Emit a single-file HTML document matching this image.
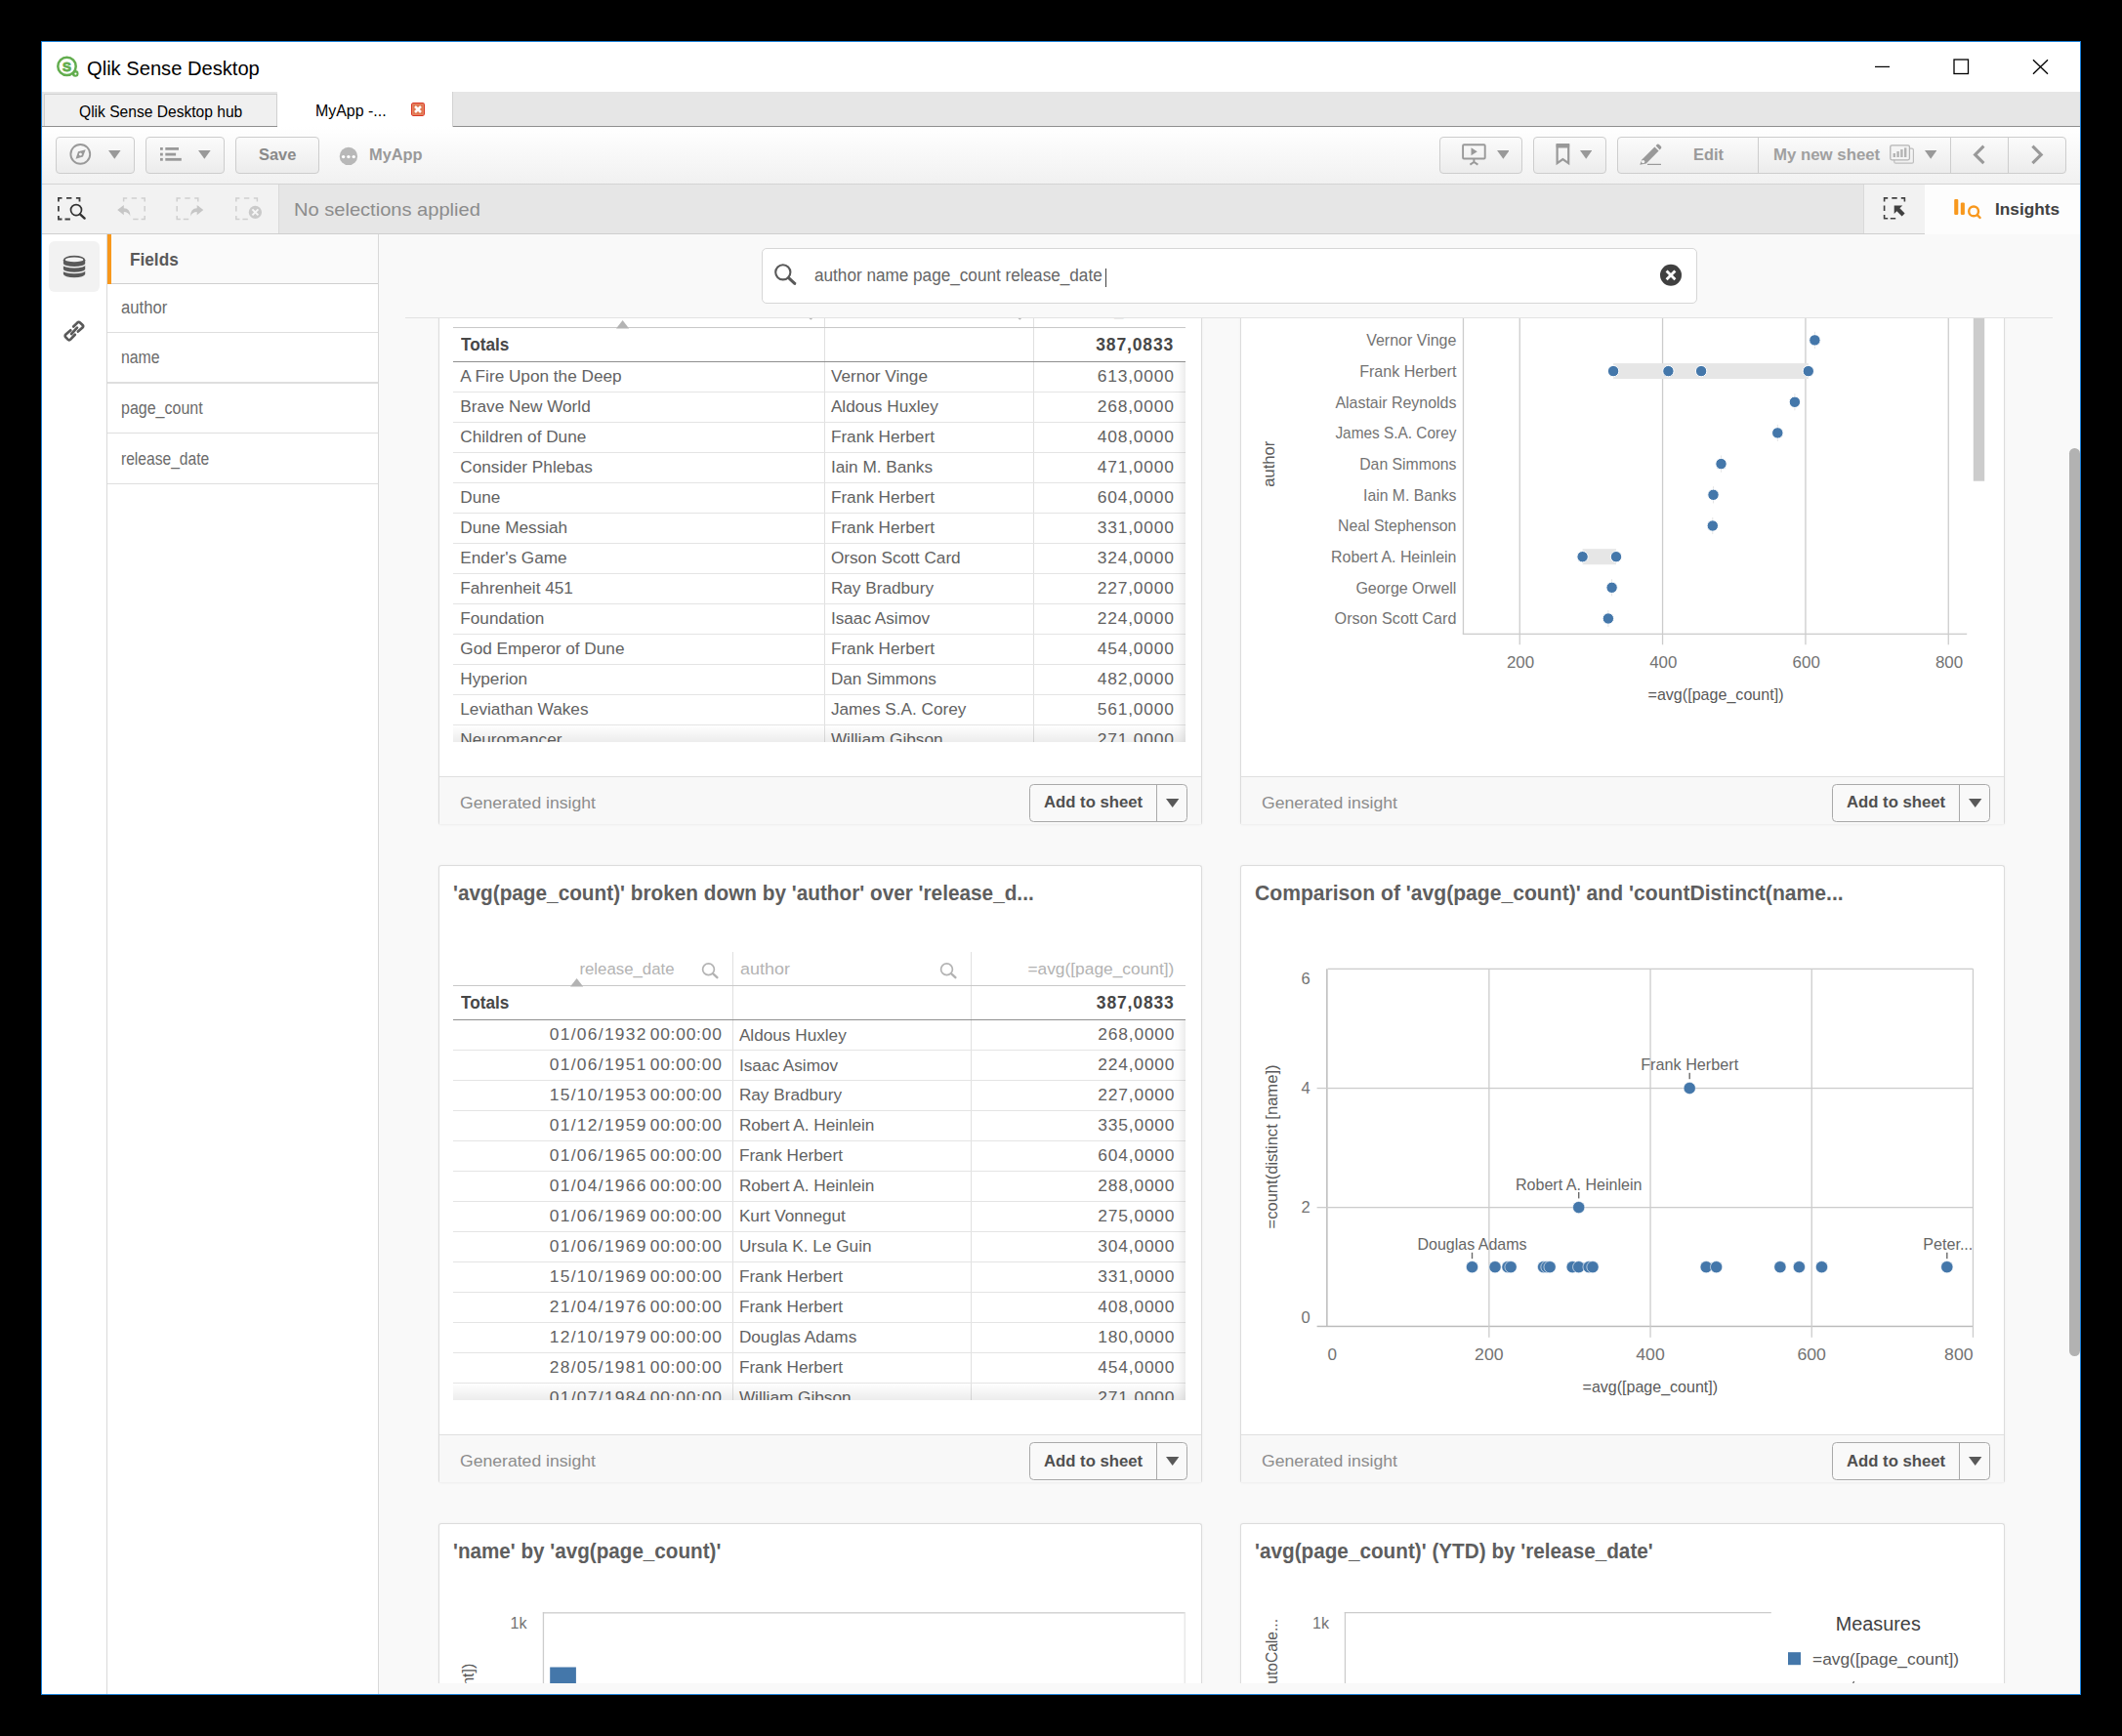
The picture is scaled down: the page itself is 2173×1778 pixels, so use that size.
<!DOCTYPE html>
<html><head><meta charset="utf-8"><title>Qlik Sense Desktop</title>
<style>
html,body{margin:0;padding:0;}
body{width:2173px;height:1778px;background:#000;overflow:hidden;position:relative;font-family:"Liberation Sans",sans-serif;}
.b{position:absolute;box-sizing:border-box;}
.t{position:absolute;white-space:nowrap;display:block;}
#clip{position:absolute;left:0;top:326px;width:2173px;height:1398px;overflow:hidden;}
#clip .in{position:absolute;left:0;top:-326px;width:2173px;height:1778px;}
</style></head><body>
<div class="b" style="left:42.00px;top:42.00px;width:2089.00px;height:1694.00px;background:#fff;border:1px solid #1a80d9;"></div>
<div class="b" style="left:43.00px;top:94.00px;width:2087.00px;height:36.00px;background:#e6e6e6;border-bottom:1px solid #8f8f8f;"></div>
<div class="b" style="left:45.00px;top:96.00px;width:239.00px;height:33.00px;background:#f0f0f0;border:1px solid #d0d0d0;border-bottom:none;"></div>
<div class="b" style="left:283.50px;top:94.00px;width:180.00px;height:36.00px;background:#fff;border-right:1px solid #d2d2d2;"></div>
<div class="b" style="left:43.00px;top:130.00px;width:2087.00px;height:59.00px;background:linear-gradient(#ffffff,#f1f1f1);border-bottom:1px solid #d4d4d4;"></div>
<div class="b" style="left:43.00px;top:189.00px;width:2087.00px;height:51.00px;background:#e6e6e6;border-bottom:1px solid #cfcfcf;"></div>
<div class="b" style="left:43.00px;top:189.00px;width:242.50px;height:50.00px;background:#f2f2f2;border-right:1px solid #d9d9d9;"></div>
<div class="b" style="left:1908.00px;top:189.00px;width:63.00px;height:50.00px;background:#f2f2f2;border-left:1px solid #d9d9d9;"></div>
<div class="b" style="left:1971.00px;top:189.00px;width:159.00px;height:50.50px;background:#fdfdfd;"></div>
<div class="b" style="left:43.00px;top:240.00px;width:67.00px;height:1495.00px;background:#fff;border-right:1px solid #d9d9d9;"></div>
<div class="b" style="left:110.00px;top:240.00px;width:278.00px;height:1495.00px;background:#fff;border-right:1px solid #d9d9d9;"></div>
<div class="b" style="left:388.00px;top:240.00px;width:1742.00px;height:1495.00px;background:#f9f9f9;"></div>
<span class="t" style="top:59.77px;font-size:20px;line-height:20px;color:#000;left:88.70px;transform-origin:0 50%;transform:scaleX(1.0066);">Qlik Sense Desktop</span>
<span class="t" style="top:105.51px;font-size:17px;line-height:17px;color:#000;left:81.20px;transform-origin:0 50%;transform:scaleX(0.9173);">Qlik Sense Desktop hub</span>
<span class="t" style="top:105.11px;font-size:17px;line-height:17px;color:#000;left:322.90px;transform-origin:0 50%;transform:scaleX(0.9372);">MyApp -...</span>
<svg class="b" style="left:421.00px;top:105.00px;" width="14" height="14" viewBox="0 0 14 14"><rect x="0.6" y="0.6" width="12.8" height="12.8" rx="1.8" fill="#e0764e" stroke="#d93623" stroke-width="1.2"/><rect x="1.7" y="1.7" width="10.6" height="10.6" fill="none" stroke="#e99271" stroke-width="0.8"/><path d="M4 4L10 10M10 4L4 10" stroke="#fff" stroke-width="2.5"/></svg>
<svg class="b" style="left:1920.00px;top:58.00px;" width="20" height="20" viewBox="0 0 20 20"><path d="M0 10.4H15" stroke="#000" stroke-width="1.2"/></svg>
<svg class="b" style="left:2000.00px;top:60.00px;" width="18" height="18" viewBox="0 0 18 18"><rect x="1" y="1" width="14.5" height="14.5" fill="none" stroke="#000" stroke-width="1.3"/></svg>
<svg class="b" style="left:2081.00px;top:60.00px;" width="18" height="18" viewBox="0 0 18 18"><path d="M1 1.2L16 15.8M16 1.2L1 15.8" stroke="#000" stroke-width="1.3"/></svg>
<div class="b" style="left:57.00px;top:140.00px;width:81.00px;height:38.00px;background:linear-gradient(#fbfbfb,#ececec);border:1px solid #cdcdcd;border-radius:4px;"></div>
<div class="b" style="left:149.00px;top:140.00px;width:81.00px;height:38.00px;background:linear-gradient(#fbfbfb,#ececec);border:1px solid #cdcdcd;border-radius:4px;"></div>
<div class="b" style="left:241.00px;top:140.00px;width:86.00px;height:38.00px;background:linear-gradient(#fbfbfb,#ececec);border:1px solid #cdcdcd;border-radius:4px;"></div>
<div class="b" style="left:1474.00px;top:140.00px;width:85.00px;height:38.00px;background:linear-gradient(#fbfbfb,#ececec);border:1px solid #cdcdcd;border-radius:4px;"></div>
<div class="b" style="left:1570.00px;top:140.00px;width:75.00px;height:38.00px;background:linear-gradient(#fbfbfb,#ececec);border:1px solid #cdcdcd;border-radius:4px;"></div>
<div class="b" style="left:1656.00px;top:140.00px;width:460.00px;height:38.00px;background:linear-gradient(#fbfbfb,#ececec);border:1px solid #cdcdcd;border-radius:4px;"></div>
<div class="b" style="left:1800.10px;top:141.00px;width:1.00px;height:36.00px;background:#cdcdcd;"></div>
<div class="b" style="left:1997.00px;top:141.00px;width:1.00px;height:36.00px;background:#cdcdcd;"></div>
<div class="b" style="left:2056.00px;top:141.00px;width:1.00px;height:36.00px;background:#cdcdcd;"></div>
<span class="t" style="top:149.73px;font-size:16.5px;line-height:16.5px;color:#8a8a8a;font-weight:bold;left:265.00px;transform-origin:0 50%;transform:scaleX(0.9965);">Save</span>
<span class="t" style="top:149.73px;font-size:16.5px;line-height:16.5px;color:#9a9a9a;font-weight:bold;left:378.20px;transform-origin:0 50%;transform:scaleX(0.9928);">MyApp</span>
<span class="t" style="top:205.32px;font-size:19px;line-height:19px;color:#8c8c8c;left:301.20px;transform-origin:0 50%;transform:scaleX(1.0564);">No selections applied</span>
<div class="b" style="left:110.00px;top:240.00px;width:277.00px;height:50.50px;background:#fafafa;border-bottom:1px solid #cfcfcf;"></div>
<div class="b" style="left:110.00px;top:240.00px;width:4.00px;height:50.50px;background:#f8981d;"></div>
<span class="t" style="top:255.82px;font-size:19px;line-height:19px;color:#595959;font-weight:bold;left:132.50px;transform-origin:0 50%;transform:scaleX(0.9052);">Fields</span>
<div class="b" style="left:110.00px;top:339.90px;width:277.00px;height:1.30px;background:#dedede;"></div>
<span class="t" style="top:305.86px;font-size:18px;line-height:18px;color:#6b6b6b;left:124.30px;transform-origin:0 50%;transform:scaleX(0.9248);">author</span>
<div class="b" style="left:110.00px;top:391.40px;width:277.00px;height:1.30px;background:#dedede;"></div>
<span class="t" style="top:357.36px;font-size:18px;line-height:18px;color:#6b6b6b;left:124.30px;transform-origin:0 50%;transform:scaleX(0.8795);">name</span>
<div class="b" style="left:110.00px;top:443.10px;width:277.00px;height:1.30px;background:#dedede;"></div>
<span class="t" style="top:409.06px;font-size:18px;line-height:18px;color:#6b6b6b;left:124.30px;transform-origin:0 50%;transform:scaleX(0.8896);">page_count</span>
<div class="b" style="left:110.00px;top:494.80px;width:277.00px;height:1.30px;background:#dedede;"></div>
<span class="t" style="top:460.76px;font-size:18px;line-height:18px;color:#6b6b6b;left:124.30px;transform-origin:0 50%;transform:scaleX(0.8666);">release_date</span>
<div class="b" style="left:50.00px;top:247.00px;width:52.00px;height:52.00px;background:#f2f2f2;border-radius:6px;"></div>
<svg class="b" style="left:57.00px;top:56.00px;" width="26" height="26" viewBox="0 0 26 26"><circle cx="20.2" cy="19.4" r="3.3" fill="#62ad4e"/><circle cx="11.5" cy="11.9" r="9.2" fill="#fff" stroke="#62ad4e" stroke-width="2.5"/><circle cx="20.4" cy="19.6" r="1.1" fill="#fff"/><text x="11.5" y="16.7" text-anchor="middle" font-family="Liberation Sans" font-weight="bold" font-size="13.4" fill="#62ad4e" stroke="#62ad4e" stroke-width="0.9">S</text></svg>
<svg class="b" style="left:70.00px;top:146.00px;" width="25" height="25" viewBox="0 0 25 25"><circle cx="12.3" cy="11.9" r="9.9" fill="none" stroke="#999999" stroke-width="1.9"/><path d="M17.7 7.2L15 14.4L7.5 16.8L10 9.3Z M12.4 10.5a1.5 1.5 0 1 0 0.01 0Z" fill="#999999" fill-rule="evenodd"/></svg>
<svg class="b" style="left:111.10px;top:154.20px;" width="12.600000000000009" height="8.700000000000017" viewBox="0 0 12.600000000000009 8.700000000000017"><path d="M0 0H12.60L6.30 8.70Z" fill="#999999"/></svg>
<svg class="b" style="left:203.20px;top:154.20px;" width="12.700000000000017" height="8.700000000000017" viewBox="0 0 12.700000000000017 8.700000000000017"><path d="M0 0H12.70L6.35 8.70Z" fill="#999999"/></svg>
<svg class="b" style="left:1532.60px;top:154.20px;" width="12.700000000000045" height="8.700000000000017" viewBox="0 0 12.700000000000045 8.700000000000017"><path d="M0 0H12.70L6.35 8.70Z" fill="#999999"/></svg>
<svg class="b" style="left:1617.60px;top:154.20px;" width="12.400000000000091" height="8.700000000000017" viewBox="0 0 12.400000000000091 8.700000000000017"><path d="M0 0H12.40L6.20 8.70Z" fill="#999999"/></svg>
<svg class="b" style="left:1971.20px;top:154.20px;" width="12.299999999999955" height="8.700000000000017" viewBox="0 0 12.299999999999955 8.700000000000017"><path d="M0 0H12.30L6.15 8.70Z" fill="#999999"/></svg>
<svg class="b" style="left:163.90px;top:151.20px;" width="24" height="15" viewBox="0 0 24 15"><rect x="0" y="0.00" width="2.8" height="2.8" fill="#999999"/><rect x="5.3" y="0.00" width="13.70" height="2.8" fill="#999999"/><rect x="0" y="5.70" width="2.8" height="2.8" fill="#999999"/><rect x="5.3" y="5.70" width="10.80" height="2.8" fill="#999999"/><rect x="0" y="10.90" width="2.8" height="2.8" fill="#999999"/><rect x="5.3" y="10.90" width="16.50" height="2.8" fill="#999999"/></svg>
<svg class="b" style="left:346.00px;top:149.00px;" width="22" height="22" viewBox="0 0 22 22"><circle cx="10.9" cy="10.9" r="9.2" fill="#b8b8b8"/><circle cx="5.6" cy="11.6" r="1.7" fill="#fff"/><circle cx="10.9" cy="11.6" r="1.7" fill="#fff"/><circle cx="16.2" cy="11.6" r="1.7" fill="#fff"/></svg>
<svg class="b" style="left:1496.00px;top:146.00px;" width="28" height="24" viewBox="0 0 28 24"><rect x="2.1" y="2.3" width="22.6" height="14.2" rx="1" fill="none" stroke="#999999" stroke-width="1.9"/><path d="M10.5 5.2L16.8 9.2L10.5 13.2Z" fill="#999999"/><path d="M13.4 17V20M9.4 22.6L13.4 20L17.4 22.6" fill="none" stroke="#999999" stroke-width="1.9"/></svg>
<svg class="b" style="left:1592.00px;top:146.00px;" width="18" height="24" viewBox="0 0 18 24"><path d="M2.6 2.2H14.2V21.2L8.4 17L2.6 21.2Z" fill="none" stroke="#999999" stroke-width="2.2"/><rect x="1.6" y="1.2" width="13.6" height="4.2" rx="1.5" fill="#999999"/></svg>
<svg class="b" style="left:1677.00px;top:146.00px;" width="26" height="24" viewBox="0 0 26 24"><path d="M4.6 17.2L17.4 4.4L21.6 8.6L8.8 21.4L2.2 22.8Z" fill="#999999"/><path d="M18.6 3.2L20 1.8Q21 1 22 2L24 4Q24.8 5 24 6L22.6 7.4Z" fill="#999999"/><circle cx="5.6" cy="19.6" r="1.7" fill="#f4f4f4"/><rect x="10" y="21.8" width="14" height="1.2" fill="#999999"/></svg>
<span class="t" style="top:149.93px;font-size:16.5px;line-height:16.5px;color:#9a9a9a;font-weight:bold;left:1733.80px;transform-origin:0 50%;transform:scaleX(0.9915);">Edit</span>
<span class="t" style="top:149.93px;font-size:16.5px;line-height:16.5px;color:#a0a0a0;font-weight:bold;left:1815.60px;transform-origin:0 50%;transform:scaleX(1.0179);">My new sheet</span>
<svg class="b" style="left:1935.00px;top:148.00px;" width="26" height="21" viewBox="0 0 26 21"><rect x="4.8" y="4.2" width="19.6" height="15" rx="1.5" fill="none" stroke="#bdbdbd" stroke-width="1.2"/><rect x="0.8" y="0.8" width="19.6" height="15" rx="1.5" fill="#f4f4f4" stroke="#b4b4b4" stroke-width="1.3"/><rect x="3.6" y="9" width="2.4" height="4" fill="#b4b4b4"/><rect x="7.4" y="7" width="2.4" height="6" fill="#b4b4b4"/><rect x="11.2" y="5" width="2.4" height="8" fill="#b4b4b4"/><rect x="15" y="3.4" width="2.4" height="9.6" fill="#b4b4b4"/></svg>
<svg class="b" style="left:2019.00px;top:147.00px;" width="16" height="23" viewBox="0 0 16 23"><path d="M12.4 2.6L3.6 11.4L12.4 20.2" fill="none" stroke="#999999" stroke-width="3.1"/></svg>
<svg class="b" style="left:2078.00px;top:147.00px;" width="16" height="23" viewBox="0 0 16 23"><path d="M3.4 2.6L12.2 11.4L3.4 20.2" fill="none" stroke="#999999" stroke-width="3.1"/></svg>
<svg class="b" style="left:56.00px;top:199.00px;" width="36" height="30" viewBox="0 0 36 30"><path d="M3.9 7.5V3.9H7.5 M21.9 3.9H25.5V7.5 M7.5 25.5H3.9V21.9 M12.0 3.9H17.400000000000002 M10.5 25.5H15.900000000000002 M3.9 12.0V17.400000000000002" fill="none" stroke="#404040" stroke-width="1.8"/><circle cx="22" cy="16.1" r="5.5" fill="none" stroke="#333" stroke-width="1.7"/><path d="M26 20.3L30.6 24.6" stroke="#333" stroke-width="2.4" stroke-linecap="round"/></svg>
<svg class="b" style="left:117.00px;top:199.00px;" width="36" height="30" viewBox="0 0 36 30"><path d="M9.6 7.5V3.9H13.2 M27.6 3.9H31.200000000000003V7.5 M31.200000000000003 21.9V25.5H27.6 M17.7 3.9H23.099999999999998 M19.2 25.5H24.599999999999998 M31.200000000000003 12.0V17.400000000000002" fill="none" stroke="#cfcfcf" stroke-width="1.5"/><path d="M3.2 16.1L9.8 11V14.2Q16.6 14.4 16.4 22.6Q14.6 18 9.8 18V21.2Z" fill="#c6c6c6"/></svg>
<svg class="b" style="left:177.00px;top:199.00px;" width="36" height="30" viewBox="0 0 36 30"><path d="M4.2 7.5V3.9H7.800000000000001 M22.2 3.9H25.8V7.5 M7.800000000000001 25.5H4.2V21.9 M12.3 3.9H17.7 M10.8 25.5H16.2 M4.2 12.0V17.400000000000002 M25.8 12.0V17.400000000000002" fill="none" stroke="#cfcfcf" stroke-width="1.5"/><rect x="24" y="13" width="3" height="5" fill="#f2f2f2"/><path d="M31.3 16.1L24.7 11V14.2Q17.9 14.4 18.1 22.6Q19.9 18 24.7 18V21.2Z" fill="#c6c6c6"/></svg>
<svg class="b" style="left:238.00px;top:199.00px;" width="36" height="30" viewBox="0 0 36 30"><path d="M3.8 7.5V3.9H7.4 M21.8 3.9H25.400000000000002V7.5 M7.4 25.5H3.8V21.9 M11.900000000000002 3.9H17.3 M10.400000000000002 25.5H15.8 M3.8 12.0V17.400000000000002" fill="none" stroke="#cfcfcf" stroke-width="1.5"/><circle cx="23.4" cy="18.4" r="6.6" fill="#cacaca"/><path d="M20.4 15.4L26.4 21.4M26.4 15.4L20.4 21.4" stroke="#f6f6f6" stroke-width="2"/></svg>
<svg class="b" style="left:1926.00px;top:199.00px;" width="30" height="30" viewBox="0 0 30 30"><path d="M3.6 7.5V3.9H7.2 M20.8 3.9H24.400000000000002V7.5 M7.2 24.7H3.6V21.099999999999998 M11.3 3.9H16.7 M9.8 24.7H15.2 M3.6 11.600000000000001V17.0" fill="none" stroke="#404040" stroke-width="1.6"/><path d="M13.7 11.4H22.2L19.4 14.2L24.6 19.4L21.6 22.4L16.4 17.2L13.7 19.9Z" fill="#404040"/></svg>
<svg class="b" style="left:2000.00px;top:202.00px;" width="30" height="24" viewBox="0 0 30 24"><rect x="1.2" y="1.9" width="4.1" height="16" rx="1.2" fill="#f8981d"/><rect x="7.8" y="5.6" width="4.1" height="12.3" rx="1.2" fill="#f8981d"/><circle cx="21.1" cy="14.4" r="4.9" fill="none" stroke="#f8981d" stroke-width="2.4"/><path d="M24.8 18.1L27.6 21" stroke="#f8981d" stroke-width="2.4" stroke-linecap="round"/></svg>
<span class="t" style="top:206.78px;font-size:16.8px;line-height:16.8px;color:#404040;font-weight:bold;left:2042.90px;transform-origin:0 50%;transform:scaleX(1.0294);">Insights</span>
<svg class="b" style="left:64.00px;top:261.00px;" width="24" height="24" viewBox="0 0 24 24"><path d="M0.9 5.2V19.4A11.15 3.9 0 0 0 23.2 19.4V5.2Z" fill="#595959"/><ellipse cx="12.05" cy="5.2" rx="11.15" ry="4.4" fill="#595959"/><ellipse cx="12.05" cy="4.9" rx="9.3" ry="2.3" fill="#f2f2f2"/><path d="M0.4 9.3A11.65 3.5 0 0 0 23.7 9.3" fill="none" stroke="#f2f2f2" stroke-width="1.5"/><path d="M0.4 15.1A11.65 3.5 0 0 0 23.7 15.1" fill="none" stroke="#f2f2f2" stroke-width="1.5"/></svg>
<svg class="b" style="left:63.00px;top:326.00px;" width="26" height="26" viewBox="0 0 26 26"><g fill="none" stroke="#595959" stroke-width="2.7" stroke-linecap="round" stroke-linejoin="round"><path d="M12.2 8.5L16.2 4.6Q17.6 3.3 19 4.6L21.4 6.8Q22.8 8.1 21.5 9.5L16.9 13.6"/><path d="M9.3 12.3L4.4 16.6Q3 17.9 4.3 19.3L6.5 21.6Q7.8 23 9.2 21.6L13.8 16.8"/><path d="M10.1 16L16 9.7"/></g></svg>
<div class="b" style="left:780.40px;top:254.40px;width:957.20px;height:56.80px;background:#fff;border:1px solid #d6d6d6;border-radius:5px;"></div>
<svg class="b" style="left:790.00px;top:267.00px;" width="28" height="28" viewBox="0 0 28 28"><circle cx="11.8" cy="11.8" r="7.6" fill="none" stroke="#595959" stroke-width="2.1"/><path d="M17.6 17.6L23.8 23.4" stroke="#595959" stroke-width="3" stroke-linecap="round"/></svg>
<span class="t" style="top:272.76px;font-size:18px;line-height:18px;color:#666;left:833.50px;transform-origin:0 50%;transform:scaleX(0.9530);">author name page_count release_date</span>
<div class="b" style="left:1132.00px;top:275.20px;width:1.30px;height:18.40px;background:#404040;"></div>
<svg class="b" style="left:1699.00px;top:270.00px;" width="24" height="24" viewBox="0 0 24 24"><circle cx="12" cy="11.8" r="11" fill="#404040"/><path d="M7.6 7.4L16.4 16.2M16.4 7.4L7.6 16.2" stroke="#fff" stroke-width="2.8"/></svg>
<div class="b" style="left:415.00px;top:325.00px;width:1687.00px;height:1.00px;background:#e2e2e2;"></div>
<div id="clip"><div class="in">
<div class="b" style="left:449.30px;top:211.60px;width:781.40px;height:633.50px;background:#fff;border:1px solid #dcdcdc;border-bottom-color:#f1f1f1;border-radius:3px;box-shadow:0 0 3px rgba(0,0,0,0.05);"></div>
<div class="b" style="left:450.30px;top:794.80px;width:779.40px;height:49.30px;background:#f8f8f8;border-top:1px solid #dfdfdf;"></div>
<span class="t" style="top:229.63px;font-size:21.7px;line-height:21.7px;color:#5e5e5e;font-weight:bold;left:464.20px;transform-origin:0 50%;">&#x27;avg(page_count)&#x27; for &#x27;name&#x27; and &#x27;author&#x27;</span>
<span class="t" style="top:813.61px;font-size:17px;line-height:17px;color:#8c8c8c;left:471.30px;transform-origin:0 50%;transform:scaleX(1.0358);">Generated insight</span>
<div class="b" style="left:1054.00px;top:803.00px;width:162.00px;height:39.00px;background:#f9f9f9;border:1px solid #a9a9a9;border-radius:4.5px;"></div>
<div class="b" style="left:1184.00px;top:803.60px;width:1.00px;height:37.60px;background:#a9a9a9;"></div>
<span class="t" style="top:814.38px;font-size:16.8px;line-height:16.8px;color:#505050;font-weight:bold;left:1068.90px;transform-origin:0 50%;transform:scaleX(0.9947);">Add to sheet</span>
<svg class="b" style="left:1193.50px;top:818.00px;" width="14" height="10" viewBox="0 0 14 10"><path d="M0 0H13.4L6.7 8.9Z" fill="#595959"/></svg>
<div class="b" style="left:844.00px;top:301.00px;width:1.00px;height:458.60px;background:#e0e0e0;"></div>
<div class="b" style="left:1058.00px;top:301.00px;width:1.00px;height:458.60px;background:#e0e0e0;"></div>
<div class="b" style="left:464.00px;top:335.00px;width:749.80px;height:1.00px;background:#c8c8c8;"></div>
<div class="b" style="left:464.00px;top:370.00px;width:749.80px;height:1.00px;background:#8f8f8f;"></div>
<span class="t" style="top:309.47px;font-size:17.4px;line-height:17.4px;color:#b3b3b3;left:472.00px;transform-origin:0 50%;">name</span>
<svg class="b" style="left:812.50px;top:309.40px;" width="20" height="20" viewBox="0 0 20 20"><circle cx="8.5" cy="8.8" r="5.9" fill="none" stroke="#b3b3b3" stroke-width="1.7"/><path d="M13 13.2L17.4 17.2" stroke="#b3b3b3" stroke-width="2.4" stroke-linecap="round"/></svg>
<span class="t" style="top:309.47px;font-size:17.4px;line-height:17.4px;color:#b3b3b3;left:851.00px;transform-origin:0 50%;transform:scaleX(1.0316);">author</span>
<svg class="b" style="left:1026.50px;top:309.40px;" width="20" height="20" viewBox="0 0 20 20"><circle cx="8.5" cy="8.8" r="5.9" fill="none" stroke="#b3b3b3" stroke-width="1.7"/><path d="M13 13.2L17.4 17.2" stroke="#b3b3b3" stroke-width="2.4" stroke-linecap="round"/></svg>
<span class="t" style="top:309.47px;font-size:17.4px;line-height:17.4px;color:#b3b3b3;right:971.00px;transform-origin:100% 50%;transform:scaleX(0.9772);">=avg([page_count])</span>
<svg class="b" style="left:630.50px;top:327.80px;" width="14" height="9" viewBox="0 0 14 9"><path d="M0 8.4L6.6 0L13.2 8.4Z" fill="#b3b3b3"/></svg>
<span class="t" style="top:344.89px;font-size:17.5px;line-height:17.5px;color:#474747;font-weight:bold;left:471.80px;transform-origin:0 50%;transform:scaleX(0.9833);">Totals</span>
<span class="t" style="top:344.99px;font-size:17.5px;line-height:17.5px;color:#474747;font-weight:bold;letter-spacing:0.858px;right:970.94px;transform-origin:100% 50%;">387,0833</span>
<div class="b" style="left:464.00px;top:401.00px;width:749.80px;height:1.00px;background:#e4e4e4;"></div>
<span class="t" style="top:377.34px;font-size:17.2px;line-height:17.2px;color:#626262;left:471.30px;transform-origin:0 50%;">A Fire Upon the Deep</span>
<span class="t" style="top:377.34px;font-size:17.2px;line-height:17.2px;color:#626262;left:850.90px;transform-origin:0 50%;">Vernor Vinge</span>
<span class="t" style="top:377.17px;font-size:17.4px;line-height:17.4px;color:#626262;letter-spacing:0.803px;right:970.30px;transform-origin:100% 50%;">613,0000</span>
<div class="b" style="left:464.00px;top:432.00px;width:749.80px;height:1.00px;background:#e4e4e4;"></div>
<span class="t" style="top:408.31px;font-size:17.2px;line-height:17.2px;color:#626262;left:471.30px;transform-origin:0 50%;">Brave New World</span>
<span class="t" style="top:408.31px;font-size:17.2px;line-height:17.2px;color:#626262;left:850.90px;transform-origin:0 50%;">Aldous Huxley</span>
<span class="t" style="top:408.14px;font-size:17.4px;line-height:17.4px;color:#626262;letter-spacing:0.803px;right:970.30px;transform-origin:100% 50%;">268,0000</span>
<div class="b" style="left:464.00px;top:463.00px;width:749.80px;height:1.00px;background:#e4e4e4;"></div>
<span class="t" style="top:439.28px;font-size:17.2px;line-height:17.2px;color:#626262;left:471.30px;transform-origin:0 50%;">Children of Dune</span>
<span class="t" style="top:439.28px;font-size:17.2px;line-height:17.2px;color:#626262;left:850.90px;transform-origin:0 50%;">Frank Herbert</span>
<span class="t" style="top:439.11px;font-size:17.4px;line-height:17.4px;color:#626262;letter-spacing:0.803px;right:970.30px;transform-origin:100% 50%;">408,0000</span>
<div class="b" style="left:464.00px;top:494.00px;width:749.80px;height:1.00px;background:#e4e4e4;"></div>
<span class="t" style="top:470.25px;font-size:17.2px;line-height:17.2px;color:#626262;left:471.30px;transform-origin:0 50%;">Consider Phlebas</span>
<span class="t" style="top:470.25px;font-size:17.2px;line-height:17.2px;color:#626262;left:850.90px;transform-origin:0 50%;">Iain M. Banks</span>
<span class="t" style="top:470.08px;font-size:17.4px;line-height:17.4px;color:#626262;letter-spacing:0.803px;right:970.30px;transform-origin:100% 50%;">471,0000</span>
<div class="b" style="left:464.00px;top:525.00px;width:749.80px;height:1.00px;background:#e4e4e4;"></div>
<span class="t" style="top:501.22px;font-size:17.2px;line-height:17.2px;color:#626262;left:471.30px;transform-origin:0 50%;">Dune</span>
<span class="t" style="top:501.22px;font-size:17.2px;line-height:17.2px;color:#626262;left:850.90px;transform-origin:0 50%;">Frank Herbert</span>
<span class="t" style="top:501.05px;font-size:17.4px;line-height:17.4px;color:#626262;letter-spacing:0.803px;right:970.30px;transform-origin:100% 50%;">604,0000</span>
<div class="b" style="left:464.00px;top:556.00px;width:749.80px;height:1.00px;background:#e4e4e4;"></div>
<span class="t" style="top:532.19px;font-size:17.2px;line-height:17.2px;color:#626262;left:471.30px;transform-origin:0 50%;">Dune Messiah</span>
<span class="t" style="top:532.19px;font-size:17.2px;line-height:17.2px;color:#626262;left:850.90px;transform-origin:0 50%;">Frank Herbert</span>
<span class="t" style="top:532.02px;font-size:17.4px;line-height:17.4px;color:#626262;letter-spacing:0.803px;right:970.30px;transform-origin:100% 50%;">331,0000</span>
<div class="b" style="left:464.00px;top:587.00px;width:749.80px;height:1.00px;background:#e4e4e4;"></div>
<span class="t" style="top:563.16px;font-size:17.2px;line-height:17.2px;color:#626262;left:471.30px;transform-origin:0 50%;">Ender&#x27;s Game</span>
<span class="t" style="top:563.16px;font-size:17.2px;line-height:17.2px;color:#626262;left:850.90px;transform-origin:0 50%;">Orson Scott Card</span>
<span class="t" style="top:562.99px;font-size:17.4px;line-height:17.4px;color:#626262;letter-spacing:0.803px;right:970.30px;transform-origin:100% 50%;">324,0000</span>
<div class="b" style="left:464.00px;top:618.00px;width:749.80px;height:1.00px;background:#e4e4e4;"></div>
<span class="t" style="top:594.13px;font-size:17.2px;line-height:17.2px;color:#626262;left:471.30px;transform-origin:0 50%;">Fahrenheit 451</span>
<span class="t" style="top:594.13px;font-size:17.2px;line-height:17.2px;color:#626262;left:850.90px;transform-origin:0 50%;">Ray Bradbury</span>
<span class="t" style="top:593.96px;font-size:17.4px;line-height:17.4px;color:#626262;letter-spacing:0.803px;right:970.30px;transform-origin:100% 50%;">227,0000</span>
<div class="b" style="left:464.00px;top:649.00px;width:749.80px;height:1.00px;background:#e4e4e4;"></div>
<span class="t" style="top:625.10px;font-size:17.2px;line-height:17.2px;color:#626262;left:471.30px;transform-origin:0 50%;">Foundation</span>
<span class="t" style="top:625.10px;font-size:17.2px;line-height:17.2px;color:#626262;left:850.90px;transform-origin:0 50%;">Isaac Asimov</span>
<span class="t" style="top:624.93px;font-size:17.4px;line-height:17.4px;color:#626262;letter-spacing:0.803px;right:970.30px;transform-origin:100% 50%;">224,0000</span>
<div class="b" style="left:464.00px;top:680.00px;width:749.80px;height:1.00px;background:#e4e4e4;"></div>
<span class="t" style="top:656.07px;font-size:17.2px;line-height:17.2px;color:#626262;left:471.30px;transform-origin:0 50%;">God Emperor of Dune</span>
<span class="t" style="top:656.07px;font-size:17.2px;line-height:17.2px;color:#626262;left:850.90px;transform-origin:0 50%;">Frank Herbert</span>
<span class="t" style="top:655.90px;font-size:17.4px;line-height:17.4px;color:#626262;letter-spacing:0.803px;right:970.30px;transform-origin:100% 50%;">454,0000</span>
<div class="b" style="left:464.00px;top:711.00px;width:749.80px;height:1.00px;background:#e4e4e4;"></div>
<span class="t" style="top:687.04px;font-size:17.2px;line-height:17.2px;color:#626262;left:471.30px;transform-origin:0 50%;">Hyperion</span>
<span class="t" style="top:687.04px;font-size:17.2px;line-height:17.2px;color:#626262;left:850.90px;transform-origin:0 50%;">Dan Simmons</span>
<span class="t" style="top:686.87px;font-size:17.4px;line-height:17.4px;color:#626262;letter-spacing:0.803px;right:970.30px;transform-origin:100% 50%;">482,0000</span>
<div class="b" style="left:464.00px;top:742.00px;width:749.80px;height:1.00px;background:#e4e4e4;"></div>
<span class="t" style="top:718.01px;font-size:17.2px;line-height:17.2px;color:#626262;left:471.30px;transform-origin:0 50%;">Leviathan Wakes</span>
<span class="t" style="top:718.01px;font-size:17.2px;line-height:17.2px;color:#626262;left:850.90px;transform-origin:0 50%;">James S.A. Corey</span>
<span class="t" style="top:717.84px;font-size:17.4px;line-height:17.4px;color:#626262;letter-spacing:0.803px;right:970.30px;transform-origin:100% 50%;">561,0000</span>
<span class="t" style="top:748.98px;font-size:17.2px;line-height:17.2px;color:#626262;left:471.30px;transform-origin:0 50%;">Neuromancer</span>
<span class="t" style="top:748.98px;font-size:17.2px;line-height:17.2px;color:#626262;left:850.90px;transform-origin:0 50%;">William Gibson</span>
<span class="t" style="top:748.81px;font-size:17.4px;line-height:17.4px;color:#626262;letter-spacing:0.803px;right:970.30px;transform-origin:100% 50%;">271,0000</span>
<div class="b" style="left:1199.80px;top:371.00px;width:14.00px;height:388.60px;background:linear-gradient(to right,rgba(0,0,0,0),rgba(0,0,0,0.015) 50%,rgba(0,0,0,0.075));"></div>
<div class="b" style="left:464.00px;top:742.60px;width:749.80px;height:17.00px;background:linear-gradient(rgba(0,0,0,0),rgba(0,0,0,0.075));"></div>
<div class="b" style="left:462.00px;top:759.60px;width:755.80px;height:35.00px;background:#fff;"></div>
<div class="b" style="left:449.30px;top:885.80px;width:781.40px;height:633.50px;background:#fff;border:1px solid #dcdcdc;border-bottom-color:#f1f1f1;border-radius:3px;box-shadow:0 0 3px rgba(0,0,0,0.05);"></div>
<div class="b" style="left:450.30px;top:1469.00px;width:779.40px;height:49.30px;background:#f8f8f8;border-top:1px solid #dfdfdf;"></div>
<span class="t" style="top:903.83px;font-size:21.7px;line-height:21.7px;color:#5e5e5e;font-weight:bold;left:464.20px;transform-origin:0 50%;transform:scaleX(0.9574);">&#x27;avg(page_count)&#x27; broken down by &#x27;author&#x27; over &#x27;release_d...</span>
<span class="t" style="top:1487.81px;font-size:17px;line-height:17px;color:#8c8c8c;left:471.30px;transform-origin:0 50%;transform:scaleX(1.0358);">Generated insight</span>
<div class="b" style="left:1054.00px;top:1477.00px;width:162.00px;height:39.00px;background:#f9f9f9;border:1px solid #a9a9a9;border-radius:4.5px;"></div>
<div class="b" style="left:1184.00px;top:1477.80px;width:1.00px;height:37.60px;background:#a9a9a9;"></div>
<span class="t" style="top:1488.58px;font-size:16.8px;line-height:16.8px;color:#505050;font-weight:bold;left:1068.90px;transform-origin:0 50%;transform:scaleX(0.9947);">Add to sheet</span>
<svg class="b" style="left:1193.50px;top:1492.20px;" width="14" height="10" viewBox="0 0 14 10"><path d="M0 0H13.4L6.7 8.9Z" fill="#595959"/></svg>
<div class="b" style="left:750.00px;top:975.20px;width:1.00px;height:458.60px;background:#e0e0e0;"></div>
<div class="b" style="left:994.00px;top:975.20px;width:1.00px;height:458.60px;background:#e0e0e0;"></div>
<div class="b" style="left:464.00px;top:1009.00px;width:750.40px;height:1.00px;background:#c8c8c8;"></div>
<div class="b" style="left:464.00px;top:1044.00px;width:750.40px;height:1.00px;background:#8f8f8f;"></div>
<span class="t" style="top:983.67px;font-size:17.4px;line-height:17.4px;color:#b3b3b3;right:1482.80px;transform-origin:100% 50%;transform:scaleX(0.9661);">release_date</span>
<svg class="b" style="left:717.00px;top:983.60px;" width="20" height="20" viewBox="0 0 20 20"><circle cx="8.5" cy="8.8" r="5.9" fill="none" stroke="#b3b3b3" stroke-width="1.7"/><path d="M13 13.2L17.4 17.2" stroke="#b3b3b3" stroke-width="2.4" stroke-linecap="round"/></svg>
<span class="t" style="top:983.67px;font-size:17.4px;line-height:17.4px;color:#b3b3b3;left:757.50px;transform-origin:0 50%;transform:scaleX(1.0316);">author</span>
<svg class="b" style="left:960.80px;top:983.60px;" width="20" height="20" viewBox="0 0 20 20"><circle cx="8.5" cy="8.8" r="5.9" fill="none" stroke="#b3b3b3" stroke-width="1.7"/><path d="M13 13.2L17.4 17.2" stroke="#b3b3b3" stroke-width="2.4" stroke-linecap="round"/></svg>
<span class="t" style="top:983.67px;font-size:17.4px;line-height:17.4px;color:#b3b3b3;right:970.60px;transform-origin:100% 50%;transform:scaleX(0.9972);">=avg([page_count])</span>
<svg class="b" style="left:583.60px;top:1002.00px;" width="14" height="9" viewBox="0 0 14 9"><path d="M0 8.4L6.6 0L13.2 8.4Z" fill="#b3b3b3"/></svg>
<span class="t" style="top:1019.09px;font-size:17.5px;line-height:17.5px;color:#474747;font-weight:bold;left:471.80px;transform-origin:0 50%;transform:scaleX(0.9833);">Totals</span>
<span class="t" style="top:1019.19px;font-size:17.5px;line-height:17.5px;color:#474747;font-weight:bold;letter-spacing:0.858px;right:970.34px;transform-origin:100% 50%;">387,0833</span>
<div class="b" style="left:464.00px;top:1075.00px;width:750.40px;height:1.00px;background:#e4e4e4;"></div>
<span class="t" style="top:1051.37px;font-size:17.4px;line-height:17.4px;color:#626262;letter-spacing:0.767px;right:1433.43px;transform-origin:100% 50%;">00:00:00</span>
<span class="t" style="top:1051.37px;font-size:17.4px;line-height:17.4px;color:#626262;letter-spacing:1.279px;right:1510.32px;transform-origin:100% 50%;">01/06/1932</span>
<span class="t" style="top:1051.54px;font-size:17.2px;line-height:17.2px;color:#626262;left:756.90px;transform-origin:0 50%;">Aldous Huxley</span>
<span class="t" style="top:1051.37px;font-size:17.4px;line-height:17.4px;color:#626262;letter-spacing:0.803px;right:969.70px;transform-origin:100% 50%;">268,0000</span>
<div class="b" style="left:464.00px;top:1106.00px;width:750.40px;height:1.00px;background:#e4e4e4;"></div>
<span class="t" style="top:1082.34px;font-size:17.4px;line-height:17.4px;color:#626262;letter-spacing:0.767px;right:1433.43px;transform-origin:100% 50%;">00:00:00</span>
<span class="t" style="top:1082.34px;font-size:17.4px;line-height:17.4px;color:#626262;letter-spacing:1.279px;right:1510.32px;transform-origin:100% 50%;">01/06/1951</span>
<span class="t" style="top:1082.51px;font-size:17.2px;line-height:17.2px;color:#626262;left:756.90px;transform-origin:0 50%;">Isaac Asimov</span>
<span class="t" style="top:1082.34px;font-size:17.4px;line-height:17.4px;color:#626262;letter-spacing:0.803px;right:969.70px;transform-origin:100% 50%;">224,0000</span>
<div class="b" style="left:464.00px;top:1137.00px;width:750.40px;height:1.00px;background:#e4e4e4;"></div>
<span class="t" style="top:1113.31px;font-size:17.4px;line-height:17.4px;color:#626262;letter-spacing:0.767px;right:1433.43px;transform-origin:100% 50%;">00:00:00</span>
<span class="t" style="top:1113.31px;font-size:17.4px;line-height:17.4px;color:#626262;letter-spacing:1.279px;right:1510.32px;transform-origin:100% 50%;">15/10/1953</span>
<span class="t" style="top:1113.48px;font-size:17.2px;line-height:17.2px;color:#626262;left:756.90px;transform-origin:0 50%;">Ray Bradbury</span>
<span class="t" style="top:1113.31px;font-size:17.4px;line-height:17.4px;color:#626262;letter-spacing:0.803px;right:969.70px;transform-origin:100% 50%;">227,0000</span>
<div class="b" style="left:464.00px;top:1168.00px;width:750.40px;height:1.00px;background:#e4e4e4;"></div>
<span class="t" style="top:1144.28px;font-size:17.4px;line-height:17.4px;color:#626262;letter-spacing:0.767px;right:1433.43px;transform-origin:100% 50%;">00:00:00</span>
<span class="t" style="top:1144.28px;font-size:17.4px;line-height:17.4px;color:#626262;letter-spacing:1.279px;right:1510.32px;transform-origin:100% 50%;">01/12/1959</span>
<span class="t" style="top:1144.45px;font-size:17.2px;line-height:17.2px;color:#626262;left:756.90px;transform-origin:0 50%;">Robert A. Heinlein</span>
<span class="t" style="top:1144.28px;font-size:17.4px;line-height:17.4px;color:#626262;letter-spacing:0.803px;right:969.70px;transform-origin:100% 50%;">335,0000</span>
<div class="b" style="left:464.00px;top:1199.00px;width:750.40px;height:1.00px;background:#e4e4e4;"></div>
<span class="t" style="top:1175.25px;font-size:17.4px;line-height:17.4px;color:#626262;letter-spacing:0.767px;right:1433.43px;transform-origin:100% 50%;">00:00:00</span>
<span class="t" style="top:1175.25px;font-size:17.4px;line-height:17.4px;color:#626262;letter-spacing:1.279px;right:1510.32px;transform-origin:100% 50%;">01/06/1965</span>
<span class="t" style="top:1175.42px;font-size:17.2px;line-height:17.2px;color:#626262;left:756.90px;transform-origin:0 50%;">Frank Herbert</span>
<span class="t" style="top:1175.25px;font-size:17.4px;line-height:17.4px;color:#626262;letter-spacing:0.803px;right:969.70px;transform-origin:100% 50%;">604,0000</span>
<div class="b" style="left:464.00px;top:1230.00px;width:750.40px;height:1.00px;background:#e4e4e4;"></div>
<span class="t" style="top:1206.22px;font-size:17.4px;line-height:17.4px;color:#626262;letter-spacing:0.767px;right:1433.43px;transform-origin:100% 50%;">00:00:00</span>
<span class="t" style="top:1206.22px;font-size:17.4px;line-height:17.4px;color:#626262;letter-spacing:1.279px;right:1510.32px;transform-origin:100% 50%;">01/04/1966</span>
<span class="t" style="top:1206.39px;font-size:17.2px;line-height:17.2px;color:#626262;left:756.90px;transform-origin:0 50%;">Robert A. Heinlein</span>
<span class="t" style="top:1206.22px;font-size:17.4px;line-height:17.4px;color:#626262;letter-spacing:0.803px;right:969.70px;transform-origin:100% 50%;">288,0000</span>
<div class="b" style="left:464.00px;top:1261.00px;width:750.40px;height:1.00px;background:#e4e4e4;"></div>
<span class="t" style="top:1237.19px;font-size:17.4px;line-height:17.4px;color:#626262;letter-spacing:0.767px;right:1433.43px;transform-origin:100% 50%;">00:00:00</span>
<span class="t" style="top:1237.19px;font-size:17.4px;line-height:17.4px;color:#626262;letter-spacing:1.279px;right:1510.32px;transform-origin:100% 50%;">01/06/1969</span>
<span class="t" style="top:1237.36px;font-size:17.2px;line-height:17.2px;color:#626262;left:756.90px;transform-origin:0 50%;">Kurt Vonnegut</span>
<span class="t" style="top:1237.19px;font-size:17.4px;line-height:17.4px;color:#626262;letter-spacing:0.803px;right:969.70px;transform-origin:100% 50%;">275,0000</span>
<div class="b" style="left:464.00px;top:1292.00px;width:750.40px;height:1.00px;background:#e4e4e4;"></div>
<span class="t" style="top:1268.16px;font-size:17.4px;line-height:17.4px;color:#626262;letter-spacing:0.767px;right:1433.43px;transform-origin:100% 50%;">00:00:00</span>
<span class="t" style="top:1268.16px;font-size:17.4px;line-height:17.4px;color:#626262;letter-spacing:1.279px;right:1510.32px;transform-origin:100% 50%;">01/06/1969</span>
<span class="t" style="top:1268.33px;font-size:17.2px;line-height:17.2px;color:#626262;left:756.90px;transform-origin:0 50%;">Ursula K. Le Guin</span>
<span class="t" style="top:1268.16px;font-size:17.4px;line-height:17.4px;color:#626262;letter-spacing:0.803px;right:969.70px;transform-origin:100% 50%;">304,0000</span>
<div class="b" style="left:464.00px;top:1323.00px;width:750.40px;height:1.00px;background:#e4e4e4;"></div>
<span class="t" style="top:1299.13px;font-size:17.4px;line-height:17.4px;color:#626262;letter-spacing:0.767px;right:1433.43px;transform-origin:100% 50%;">00:00:00</span>
<span class="t" style="top:1299.13px;font-size:17.4px;line-height:17.4px;color:#626262;letter-spacing:1.279px;right:1510.32px;transform-origin:100% 50%;">15/10/1969</span>
<span class="t" style="top:1299.30px;font-size:17.2px;line-height:17.2px;color:#626262;left:756.90px;transform-origin:0 50%;">Frank Herbert</span>
<span class="t" style="top:1299.13px;font-size:17.4px;line-height:17.4px;color:#626262;letter-spacing:0.803px;right:969.70px;transform-origin:100% 50%;">331,0000</span>
<div class="b" style="left:464.00px;top:1354.00px;width:750.40px;height:1.00px;background:#e4e4e4;"></div>
<span class="t" style="top:1330.10px;font-size:17.4px;line-height:17.4px;color:#626262;letter-spacing:0.767px;right:1433.43px;transform-origin:100% 50%;">00:00:00</span>
<span class="t" style="top:1330.10px;font-size:17.4px;line-height:17.4px;color:#626262;letter-spacing:1.279px;right:1510.32px;transform-origin:100% 50%;">21/04/1976</span>
<span class="t" style="top:1330.27px;font-size:17.2px;line-height:17.2px;color:#626262;left:756.90px;transform-origin:0 50%;">Frank Herbert</span>
<span class="t" style="top:1330.10px;font-size:17.4px;line-height:17.4px;color:#626262;letter-spacing:0.803px;right:969.70px;transform-origin:100% 50%;">408,0000</span>
<div class="b" style="left:464.00px;top:1385.00px;width:750.40px;height:1.00px;background:#e4e4e4;"></div>
<span class="t" style="top:1361.07px;font-size:17.4px;line-height:17.4px;color:#626262;letter-spacing:0.767px;right:1433.43px;transform-origin:100% 50%;">00:00:00</span>
<span class="t" style="top:1361.07px;font-size:17.4px;line-height:17.4px;color:#626262;letter-spacing:1.279px;right:1510.32px;transform-origin:100% 50%;">12/10/1979</span>
<span class="t" style="top:1361.24px;font-size:17.2px;line-height:17.2px;color:#626262;left:756.90px;transform-origin:0 50%;">Douglas Adams</span>
<span class="t" style="top:1361.07px;font-size:17.4px;line-height:17.4px;color:#626262;letter-spacing:0.803px;right:969.70px;transform-origin:100% 50%;">180,0000</span>
<div class="b" style="left:464.00px;top:1416.00px;width:750.40px;height:1.00px;background:#e4e4e4;"></div>
<span class="t" style="top:1392.04px;font-size:17.4px;line-height:17.4px;color:#626262;letter-spacing:0.767px;right:1433.43px;transform-origin:100% 50%;">00:00:00</span>
<span class="t" style="top:1392.04px;font-size:17.4px;line-height:17.4px;color:#626262;letter-spacing:1.279px;right:1510.32px;transform-origin:100% 50%;">28/05/1981</span>
<span class="t" style="top:1392.21px;font-size:17.2px;line-height:17.2px;color:#626262;left:756.90px;transform-origin:0 50%;">Frank Herbert</span>
<span class="t" style="top:1392.04px;font-size:17.4px;line-height:17.4px;color:#626262;letter-spacing:0.803px;right:969.70px;transform-origin:100% 50%;">454,0000</span>
<span class="t" style="top:1423.01px;font-size:17.4px;line-height:17.4px;color:#626262;letter-spacing:0.767px;right:1433.43px;transform-origin:100% 50%;">00:00:00</span>
<span class="t" style="top:1423.01px;font-size:17.4px;line-height:17.4px;color:#626262;letter-spacing:1.279px;right:1510.32px;transform-origin:100% 50%;">01/07/1984</span>
<span class="t" style="top:1423.18px;font-size:17.2px;line-height:17.2px;color:#626262;left:756.90px;transform-origin:0 50%;">William Gibson</span>
<span class="t" style="top:1423.01px;font-size:17.4px;line-height:17.4px;color:#626262;letter-spacing:0.803px;right:969.70px;transform-origin:100% 50%;">271,0000</span>
<div class="b" style="left:1200.40px;top:1045.20px;width:14.00px;height:388.60px;background:linear-gradient(to right,rgba(0,0,0,0),rgba(0,0,0,0.015) 50%,rgba(0,0,0,0.075));"></div>
<div class="b" style="left:464.00px;top:1416.80px;width:750.40px;height:17.00px;background:linear-gradient(rgba(0,0,0,0),rgba(0,0,0,0.075));"></div>
<div class="b" style="left:462.00px;top:1433.80px;width:756.40px;height:35.00px;background:#fff;"></div>
<div class="b" style="left:1269.70px;top:211.60px;width:783.20px;height:633.50px;background:#fff;border:1px solid #dcdcdc;border-bottom-color:#f1f1f1;border-radius:3px;box-shadow:0 0 3px rgba(0,0,0,0.05);"></div>
<div class="b" style="left:1270.70px;top:794.80px;width:781.20px;height:49.30px;background:#f8f8f8;border-top:1px solid #dfdfdf;"></div>
<span class="t" style="top:229.63px;font-size:21.7px;line-height:21.7px;color:#5e5e5e;font-weight:bold;left:1284.60px;transform-origin:0 50%;">Distribution of &#x27;avg(page_count)&#x27; for &#x27;author&#x27;</span>
<span class="t" style="top:813.61px;font-size:17px;line-height:17px;color:#8c8c8c;left:1291.70px;transform-origin:0 50%;transform:scaleX(1.0358);">Generated insight</span>
<div class="b" style="left:1876.00px;top:803.00px;width:162.00px;height:39.00px;background:#f9f9f9;border:1px solid #a9a9a9;border-radius:4.5px;"></div>
<div class="b" style="left:2006.00px;top:803.60px;width:1.00px;height:37.60px;background:#a9a9a9;"></div>
<span class="t" style="top:814.38px;font-size:16.8px;line-height:16.8px;color:#505050;font-weight:bold;left:1890.90px;transform-origin:0 50%;transform:scaleX(0.9947);">Add to sheet</span>
<svg class="b" style="left:2015.50px;top:818.00px;" width="14" height="10" viewBox="0 0 14 10"><path d="M0 0H13.4L6.7 8.9Z" fill="#595959"/></svg>
<svg class="b" style="left:0;top:0;font-family:'Liberation Sans',sans-serif;" width="2173" height="1778" viewBox="0 0 2173 1778"><rect x="1555.6" y="320" width="1.3" height="340.3" fill="#cccccc"/><text x="1557.0" y="684.0" font-size="16.6" fill="#737373" text-anchor="middle" textLength="28.2" lengthAdjust="spacingAndGlyphs">200</text><rect x="1701.9" y="320" width="1.3" height="340.3" fill="#cccccc"/><text x="1703.3" y="684.0" font-size="16.6" fill="#737373" text-anchor="middle" textLength="28.2" lengthAdjust="spacingAndGlyphs">400</text><rect x="1848.3" y="320" width="1.3" height="340.3" fill="#cccccc"/><text x="1849.7" y="684.0" font-size="16.6" fill="#737373" text-anchor="middle" textLength="28.2" lengthAdjust="spacingAndGlyphs">600</text><rect x="1994.6" y="320" width="1.3" height="340.3" fill="#cccccc"/><text x="1996.0" y="684.0" font-size="16.6" fill="#737373" text-anchor="middle" textLength="28.2" lengthAdjust="spacingAndGlyphs">800</text><rect x="1497.8" y="320" width="1.3" height="329.3" fill="#cccccc"/><rect x="1497.8" y="648.7" width="516.4" height="1.3" fill="#cccccc"/><rect x="1857.9" y="339.8" width="1" height="17.2" fill="#e4e4e4"/><circle cx="1858.4" cy="348.4" r="5.7" fill="#4477aa" stroke="#fff" stroke-width="1"/><text x="1491.4" y="354.3" font-size="16.4" fill="#737373" text-anchor="end" textLength="92.2" lengthAdjust="spacingAndGlyphs">Vernor Vinge</text><rect x="1652.1" y="372.1" width="199.8" height="16" fill="#e6e6e6"/><circle cx="1652.1" cy="380.1" r="5.7" fill="#4477aa" stroke="#fff" stroke-width="1"/><circle cx="1708.4" cy="380.1" r="5.7" fill="#4477aa" stroke="#fff" stroke-width="1"/><circle cx="1742.1" cy="380.1" r="5.7" fill="#4477aa" stroke="#fff" stroke-width="1"/><circle cx="1851.8" cy="380.1" r="5.7" fill="#4477aa" stroke="#fff" stroke-width="1"/><text x="1491.4" y="386.0" font-size="16.4" fill="#737373" text-anchor="end" textLength="99.2" lengthAdjust="spacingAndGlyphs">Frank Herbert</text><rect x="1837.4" y="403.2" width="1" height="17.2" fill="#e4e4e4"/><circle cx="1837.9" cy="411.8" r="5.7" fill="#4477aa" stroke="#fff" stroke-width="1"/><text x="1491.4" y="417.7" font-size="16.4" fill="#737373" text-anchor="end" textLength="124.0" lengthAdjust="spacingAndGlyphs">Alastair Reynolds</text><rect x="1819.8" y="434.8" width="1" height="17.2" fill="#e4e4e4"/><circle cx="1820.3" cy="443.4" r="5.7" fill="#4477aa" stroke="#fff" stroke-width="1"/><text x="1491.4" y="449.3" font-size="16.4" fill="#737373" text-anchor="end" textLength="124.0" lengthAdjust="spacingAndGlyphs">James S.A. Corey</text><rect x="1762.0" y="466.5" width="1" height="17.2" fill="#e4e4e4"/><circle cx="1762.5" cy="475.1" r="5.7" fill="#4477aa" stroke="#fff" stroke-width="1"/><text x="1491.4" y="481.0" font-size="16.4" fill="#737373" text-anchor="end" textLength="99.2" lengthAdjust="spacingAndGlyphs">Dan Simmons</text><rect x="1754.0" y="498.2" width="1" height="17.2" fill="#e4e4e4"/><circle cx="1754.5" cy="506.8" r="5.7" fill="#4477aa" stroke="#fff" stroke-width="1"/><text x="1491.4" y="512.7" font-size="16.4" fill="#737373" text-anchor="end" textLength="95.3" lengthAdjust="spacingAndGlyphs">Iain M. Banks</text><rect x="1753.3" y="529.9" width="1" height="17.2" fill="#e4e4e4"/><circle cx="1753.8" cy="538.5" r="5.7" fill="#4477aa" stroke="#fff" stroke-width="1"/><text x="1491.4" y="544.4" font-size="16.4" fill="#737373" text-anchor="end" textLength="121.4" lengthAdjust="spacingAndGlyphs">Neal Stephenson</text><rect x="1620.6" y="562.2" width="34.4" height="16" fill="#e6e6e6"/><circle cx="1620.6" cy="570.2" r="5.7" fill="#4477aa" stroke="#fff" stroke-width="1"/><circle cx="1655.0" cy="570.2" r="5.7" fill="#4477aa" stroke="#fff" stroke-width="1"/><text x="1491.4" y="576.1" font-size="16.4" fill="#737373" text-anchor="end" textLength="128.3" lengthAdjust="spacingAndGlyphs">Robert A. Heinlein</text><rect x="1650.1" y="593.2" width="1" height="17.2" fill="#e4e4e4"/><circle cx="1650.6" cy="601.8" r="5.7" fill="#4477aa" stroke="#fff" stroke-width="1"/><text x="1491.4" y="607.7" font-size="16.4" fill="#737373" text-anchor="end" textLength="103.0" lengthAdjust="spacingAndGlyphs">George Orwell</text><rect x="1646.4" y="624.9" width="1" height="17.2" fill="#e4e4e4"/><circle cx="1646.9" cy="633.5" r="5.7" fill="#4477aa" stroke="#fff" stroke-width="1"/><text x="1491.4" y="639.4" font-size="16.4" fill="#737373" text-anchor="end" textLength="124.8" lengthAdjust="spacingAndGlyphs">Orson Scott Card</text><text x="1757.0" y="716.5" font-size="16.4" fill="#595959" text-anchor="middle" textLength="139.0" lengthAdjust="spacingAndGlyphs">=avg([page_count])</text><text x="1305.5" y="475.3" font-size="16.4" fill="#595959" text-anchor="middle" textLength="47.0" lengthAdjust="spacingAndGlyphs" transform="rotate(-90 1305.5 475.3)">author</text><rect x="2020.8" y="320" width="11.4" height="172.7" fill="#cccccc"/></svg>
<div class="b" style="left:1269.70px;top:885.80px;width:783.20px;height:633.50px;background:#fff;border:1px solid #dcdcdc;border-bottom-color:#f1f1f1;border-radius:3px;box-shadow:0 0 3px rgba(0,0,0,0.05);"></div>
<div class="b" style="left:1270.70px;top:1469.00px;width:781.20px;height:49.30px;background:#f8f8f8;border-top:1px solid #dfdfdf;"></div>
<span class="t" style="top:903.83px;font-size:21.7px;line-height:21.7px;color:#5e5e5e;font-weight:bold;left:1284.60px;transform-origin:0 50%;transform:scaleX(0.9733);">Comparison of &#x27;avg(page_count)&#x27; and &#x27;countDistinct(name...</span>
<span class="t" style="top:1487.81px;font-size:17px;line-height:17px;color:#8c8c8c;left:1291.70px;transform-origin:0 50%;transform:scaleX(1.0358);">Generated insight</span>
<div class="b" style="left:1876.00px;top:1477.00px;width:162.00px;height:39.00px;background:#f9f9f9;border:1px solid #a9a9a9;border-radius:4.5px;"></div>
<div class="b" style="left:2006.00px;top:1477.80px;width:1.00px;height:37.60px;background:#a9a9a9;"></div>
<span class="t" style="top:1488.58px;font-size:16.8px;line-height:16.8px;color:#505050;font-weight:bold;left:1890.90px;transform-origin:0 50%;transform:scaleX(0.9947);">Add to sheet</span>
<svg class="b" style="left:2015.50px;top:1492.20px;" width="14" height="10" viewBox="0 0 14 10"><path d="M0 0H13.4L6.7 8.9Z" fill="#595959"/></svg>
<svg class="b" style="left:0;top:0;font-family:'Liberation Sans',sans-serif;" width="2173" height="1778" viewBox="0 0 2173 1778"><rect x="1358.1" y="992.3" width="1.5" height="366.5" fill="#bcbcbc"/><rect x="1348.6" y="1357.7" width="672.4" height="1.5" fill="#bcbcbc"/><rect x="1524.2" y="992.3" width="1.3" height="377.5" fill="#cccccc"/><rect x="1689.4" y="992.3" width="1.3" height="377.5" fill="#cccccc"/><rect x="1854.6" y="992.3" width="1.3" height="377.5" fill="#cccccc"/><rect x="2019.8" y="992.3" width="1.3" height="377.5" fill="#cccccc"/><rect x="1348.6" y="1236.0" width="671.8" height="1.3" fill="#cccccc"/><rect x="1348.6" y="1113.9" width="671.8" height="1.3" fill="#cccccc"/><rect x="1359.6" y="991.7" width="660.8" height="1.3" fill="#cccccc"/><text x="1337.0" y="1007.6" font-size="16.6" fill="#737373" text-anchor="middle" textLength="9.2" lengthAdjust="spacingAndGlyphs">6</text><text x="1337.0" y="1120.0" font-size="16.6" fill="#737373" text-anchor="middle" textLength="9.2" lengthAdjust="spacingAndGlyphs">4</text><text x="1337.0" y="1242.2" font-size="16.6" fill="#737373" text-anchor="middle" textLength="9.2" lengthAdjust="spacingAndGlyphs">2</text><text x="1337.2" y="1354.8" font-size="16.6" fill="#737373" text-anchor="middle" textLength="9.2" lengthAdjust="spacingAndGlyphs">0</text><text x="1359.5" y="1393.0" font-size="16.6" fill="#737373" text-anchor="start" textLength="9.5" lengthAdjust="spacingAndGlyphs">0</text><text x="1524.8" y="1393.0" font-size="16.6" fill="#737373" text-anchor="middle" textLength="29.5" lengthAdjust="spacingAndGlyphs">200</text><text x="1690.0" y="1393.0" font-size="16.6" fill="#737373" text-anchor="middle" textLength="29.5" lengthAdjust="spacingAndGlyphs">400</text><text x="1855.2" y="1393.0" font-size="16.6" fill="#737373" text-anchor="middle" textLength="29.5" lengthAdjust="spacingAndGlyphs">600</text><text x="2020.6" y="1393.0" font-size="16.6" fill="#737373" text-anchor="end" textLength="29.5" lengthAdjust="spacingAndGlyphs">800</text><text x="1689.8" y="1425.6" font-size="16.4" fill="#595959" text-anchor="middle" textLength="138.5" lengthAdjust="spacingAndGlyphs">=avg([page_count])</text><text x="1307.5" y="1174.5" font-size="16.4" fill="#595959" text-anchor="middle" textLength="168.0" lengthAdjust="spacingAndGlyphs" transform="rotate(-90 1307.5 1174.5)">=count(distinct [name])</text><circle cx="1507.5" cy="1297.7" r="6.15" fill="#4477aa" stroke="#fff" stroke-width="0.6"/><circle cx="1531.0" cy="1297.7" r="6.15" fill="#4477aa" stroke="#fff" stroke-width="0.6"/><circle cx="1544.0" cy="1297.7" r="6.15" fill="#4477aa" stroke="#fff" stroke-width="0.6"/><circle cx="1547.1" cy="1297.7" r="6.15" fill="#4477aa" stroke="#fff" stroke-width="0.6"/><circle cx="1580.6" cy="1297.7" r="6.15" fill="#4477aa" stroke="#fff" stroke-width="0.6"/><circle cx="1584.0" cy="1297.7" r="6.15" fill="#4477aa" stroke="#fff" stroke-width="0.6"/><circle cx="1587.1" cy="1297.7" r="6.15" fill="#4477aa" stroke="#fff" stroke-width="0.6"/><circle cx="1610.2" cy="1297.7" r="6.15" fill="#4477aa" stroke="#fff" stroke-width="0.6"/><circle cx="1616.7" cy="1297.7" r="6.15" fill="#4477aa" stroke="#fff" stroke-width="0.6"/><circle cx="1627.1" cy="1297.7" r="6.15" fill="#4477aa" stroke="#fff" stroke-width="0.6"/><circle cx="1631.0" cy="1297.7" r="6.15" fill="#4477aa" stroke="#fff" stroke-width="0.6"/><circle cx="1747.2" cy="1297.7" r="6.15" fill="#4477aa" stroke="#fff" stroke-width="0.6"/><circle cx="1757.6" cy="1297.7" r="6.15" fill="#4477aa" stroke="#fff" stroke-width="0.6"/><circle cx="1822.9" cy="1297.7" r="6.15" fill="#4477aa" stroke="#fff" stroke-width="0.6"/><circle cx="1842.4" cy="1297.7" r="6.15" fill="#4477aa" stroke="#fff" stroke-width="0.6"/><circle cx="1865.5" cy="1297.7" r="6.15" fill="#4477aa" stroke="#fff" stroke-width="0.6"/><circle cx="1993.8" cy="1297.7" r="6.15" fill="#4477aa" stroke="#fff" stroke-width="0.6"/><circle cx="1616.7" cy="1236.6" r="6.15" fill="#4477aa" stroke="#fff" stroke-width="0.6"/><circle cx="1730.2" cy="1114.5" r="6.15" fill="#4477aa" stroke="#fff" stroke-width="0.6"/><rect x="1728.7" y="1082.4" width="3" height="22" fill="#fff" opacity="0"/><text x="1730.2" y="1096.4" font-size="16.4" fill="#666" text-anchor="middle" textLength="100.0" lengthAdjust="spacingAndGlyphs">Frank Herbert</text><rect x="1729.5" y="1098.8" width="1.4" height="6.4" fill="#6a6a6a"/><rect x="1615.2" y="1204.6" width="3" height="22" fill="#fff" opacity="0"/><text x="1616.7" y="1218.6" font-size="16.4" fill="#666" text-anchor="middle" textLength="129.5" lengthAdjust="spacingAndGlyphs">Robert A. Heinlein</text><rect x="1616.0" y="1221.0" width="1.4" height="6.4" fill="#6a6a6a"/><rect x="1506.0" y="1266.4" width="3" height="22" fill="#fff" opacity="0"/><text x="1507.5" y="1280.4" font-size="16.4" fill="#666" text-anchor="middle" textLength="112.0" lengthAdjust="spacingAndGlyphs">Douglas Adams</text><rect x="1506.8" y="1282.8" width="1.4" height="6.4" fill="#6a6a6a"/><rect x="1992.3" y="1266.4" width="3" height="22" fill="#fff" opacity="0"/><text x="2020.3" y="1280.4" font-size="16.4" fill="#666" text-anchor="end" textLength="51.0" lengthAdjust="spacingAndGlyphs">Peter...</text><rect x="1993.1" y="1282.8" width="1.4" height="6.4" fill="#6a6a6a"/></svg>
<div class="b" style="left:449.30px;top:1559.90px;width:781.40px;height:633.50px;background:#fff;border:1px solid #dcdcdc;border-bottom-color:#f1f1f1;border-radius:3px;box-shadow:0 0 3px rgba(0,0,0,0.05);"></div>
<div class="b" style="left:450.30px;top:2143.10px;width:779.40px;height:49.30px;background:#f8f8f8;border-top:1px solid #dfdfdf;"></div>
<span class="t" style="top:1577.93px;font-size:21.7px;line-height:21.7px;color:#5e5e5e;font-weight:bold;left:464.20px;transform-origin:0 50%;transform:scaleX(0.9520);">&#x27;name&#x27; by &#x27;avg(page_count)&#x27;</span>
<span class="t" style="top:2161.91px;font-size:17px;line-height:17px;color:#8c8c8c;left:471.30px;transform-origin:0 50%;transform:scaleX(1.0358);">Generated insight</span>
<div class="b" style="left:1054.00px;top:2151.00px;width:162.00px;height:39.00px;background:#f9f9f9;border:1px solid #a9a9a9;border-radius:4.5px;"></div>
<div class="b" style="left:1184.00px;top:2151.90px;width:1.00px;height:37.60px;background:#a9a9a9;"></div>
<span class="t" style="top:2162.68px;font-size:16.8px;line-height:16.8px;color:#505050;font-weight:bold;left:1068.90px;transform-origin:0 50%;transform:scaleX(0.9947);">Add to sheet</span>
<svg class="b" style="left:1193.50px;top:2166.30px;" width="14" height="10" viewBox="0 0 14 10"><path d="M0 0H13.4L6.7 8.9Z" fill="#595959"/></svg>
<svg class="b" style="left:0;top:0;font-family:'Liberation Sans',sans-serif;" width="2173" height="1778" viewBox="0 0 2173 1778"><rect x="555.8" y="1651.2" width="658" height="1.3" fill="#cccccc"/><rect x="555.8" y="1651.2" width="1.3" height="90" fill="#cccccc"/><rect x="1212.6" y="1651.2" width="1.3" height="90" fill="#e6e6e6"/><rect x="563.2" y="1707.5" width="26.7" height="40" fill="#4477aa"/><text x="539.6" y="1668.2" font-size="16.6" fill="#737373" text-anchor="end" textLength="17.0" lengthAdjust="spacingAndGlyphs">1k</text><text x="485.3" y="1703.6" font-size="16.4" fill="#595959" text-anchor="end" textLength="139.0" lengthAdjust="spacingAndGlyphs" transform="rotate(-90 485.3 1703.6)">=avg([page_count])</text></svg>
<div class="b" style="left:1269.70px;top:1559.90px;width:783.20px;height:633.50px;background:#fff;border:1px solid #dcdcdc;border-bottom-color:#f1f1f1;border-radius:3px;box-shadow:0 0 3px rgba(0,0,0,0.05);"></div>
<div class="b" style="left:1270.70px;top:2143.10px;width:781.20px;height:49.30px;background:#f8f8f8;border-top:1px solid #dfdfdf;"></div>
<span class="t" style="top:1577.93px;font-size:21.7px;line-height:21.7px;color:#5e5e5e;font-weight:bold;left:1284.60px;transform-origin:0 50%;transform:scaleX(0.9554);">&#x27;avg(page_count)&#x27; (YTD) by &#x27;release_date&#x27;</span>
<span class="t" style="top:2161.91px;font-size:17px;line-height:17px;color:#8c8c8c;left:1291.70px;transform-origin:0 50%;transform:scaleX(1.0358);">Generated insight</span>
<div class="b" style="left:1876.00px;top:2151.00px;width:162.00px;height:39.00px;background:#f9f9f9;border:1px solid #a9a9a9;border-radius:4.5px;"></div>
<div class="b" style="left:2006.00px;top:2151.90px;width:1.00px;height:37.60px;background:#a9a9a9;"></div>
<span class="t" style="top:2162.68px;font-size:16.8px;line-height:16.8px;color:#505050;font-weight:bold;left:1890.90px;transform-origin:0 50%;transform:scaleX(0.9947);">Add to sheet</span>
<svg class="b" style="left:2015.50px;top:2166.30px;" width="14" height="10" viewBox="0 0 14 10"><path d="M0 0H13.4L6.7 8.9Z" fill="#595959"/></svg>
<svg class="b" style="left:0;top:0;font-family:'Liberation Sans',sans-serif;" width="2173" height="1778" viewBox="0 0 2173 1778"><rect x="1376.8" y="1651" width="437" height="1.3" fill="#cccccc"/><rect x="1376.8" y="1651" width="1.3" height="90" fill="#cccccc"/><text x="1361.0" y="1668.4" font-size="16.6" fill="#737373" text-anchor="end" textLength="17.0" lengthAdjust="spacingAndGlyphs">1k</text><text x="1923.3" y="1670.4" font-size="19.5" fill="#404040" text-anchor="middle" textLength="87.0" lengthAdjust="spacingAndGlyphs">Measures</text><rect x="1831" y="1692.2" width="13" height="13" fill="#4477aa"/><text x="1856.0" y="1704.8" font-size="17.4" fill="#595959" text-anchor="start" textLength="150.0" lengthAdjust="spacingAndGlyphs">=avg([page_count])</text><text x="1307.5" y="1658.0" font-size="16.4" fill="#595959" text-anchor="end" textLength="170.0" lengthAdjust="spacingAndGlyphs" transform="rotate(-90 1307.5 1658.0)">release_date.autoCale...</text><path d="M1896.6 1726.2L1898.6 1722" stroke="#595959" stroke-width="1.2"/></svg>
</div></div>
<div class="b" style="left:2119.00px;top:458.60px;width:11.00px;height:930.40px;background:#b2b2b2;border-radius:5.5px;"></div>
</body></html>
